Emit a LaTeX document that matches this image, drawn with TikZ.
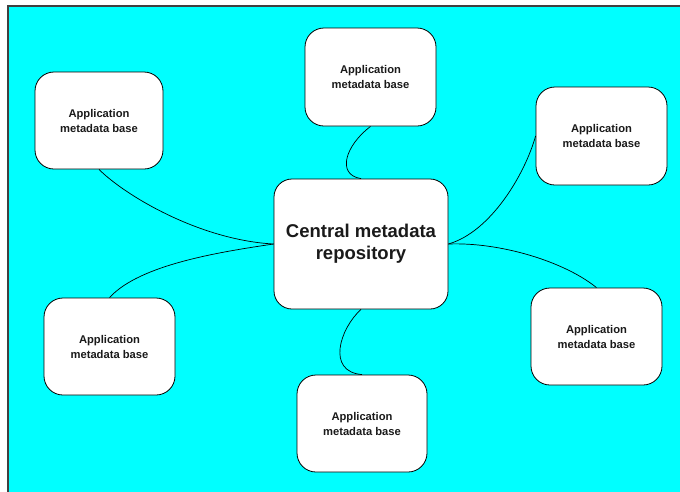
\documentclass[tikz,border=0pt]{standalone}
\usepackage{fontspec}
\setmainfont{Liberation Sans}
\definecolor{bgcyan}{RGB}{0,255,255}
\definecolor{framegray}{RGB}{64,64,64}
\definecolor{inkdark}{RGB}{26,26,26}
\begin{document}
\begin{tikzpicture}[x=1pt,y=-1pt,
  appbox/.style={draw=black, fill=white, line width=0.8pt, rectangle,
    rounded corners=19pt, minimum width=130pt, minimum height=97pt,
    align=center, inner sep=0pt, text=inkdark,
    font=\fontsize{11.2}{15}\selectfont\bfseries},
  hubbox/.style={appbox, minimum width=174pt, minimum height=130pt,
    rounded corners=18pt, font=\fontsize{18.5}{22}\selectfont\bfseries},
  link/.style={draw=black, line width=0.7pt}]
  \useasboundingbox (0,0) rectangle (680,491);
  \clip (0,0) rectangle (680,491);
  % cyan backdrop with dark frame
  \fill[bgcyan] (8,6) rectangle (686,498);
  \draw[draw=framegray, line width=1.5pt] (8,6) rectangle (686,498);

  % hub and satellites
  \node[hubbox] (hub) at (361,244) {Central metadata\\repository};
  \node[appbox, minimum width=128pt] (tl) at (99,120.5) {Application\\metadata base};
  \node[appbox, minimum width=131pt, minimum height=98pt] (tp) at (370.5,77) {Application\\metadata base};
  \node[appbox, minimum width=131pt, minimum height=98pt] (tr) at (601.5,136) {Application\\metadata base};
  \node[appbox, minimum width=131pt] (br) at (596.5,336.5) {Application\\metadata base};
  \node[appbox, minimum width=131pt] (bl) at (109.5,346.5) {Application\\metadata base};
  \node[appbox] (bt) at (362,423.5) {Application\\metadata base};

  % curved links
  \draw[link] (tp.south) .. controls +(-25,19) and +(-25,-4) .. (hub.north);
  \draw[link] (hub.south) .. controls +(-21,19) and +(-36,-3) .. (bt.north);
  \draw[link] (tl.south) .. controls +(26,26) and +(-74,-4) .. (hub.west);
  \draw[link] (hub.west) .. controls +(-54,8) and +(30,-33) .. (bl.north);
  \draw[link] (hub.east) .. controls +(42,-12) and +(-11,39) .. (tr.west);
  \draw[link] (hub.east) .. controls +(52,-2) and +(-32,-26) .. (br.north);
\end{tikzpicture}
\end{document}
